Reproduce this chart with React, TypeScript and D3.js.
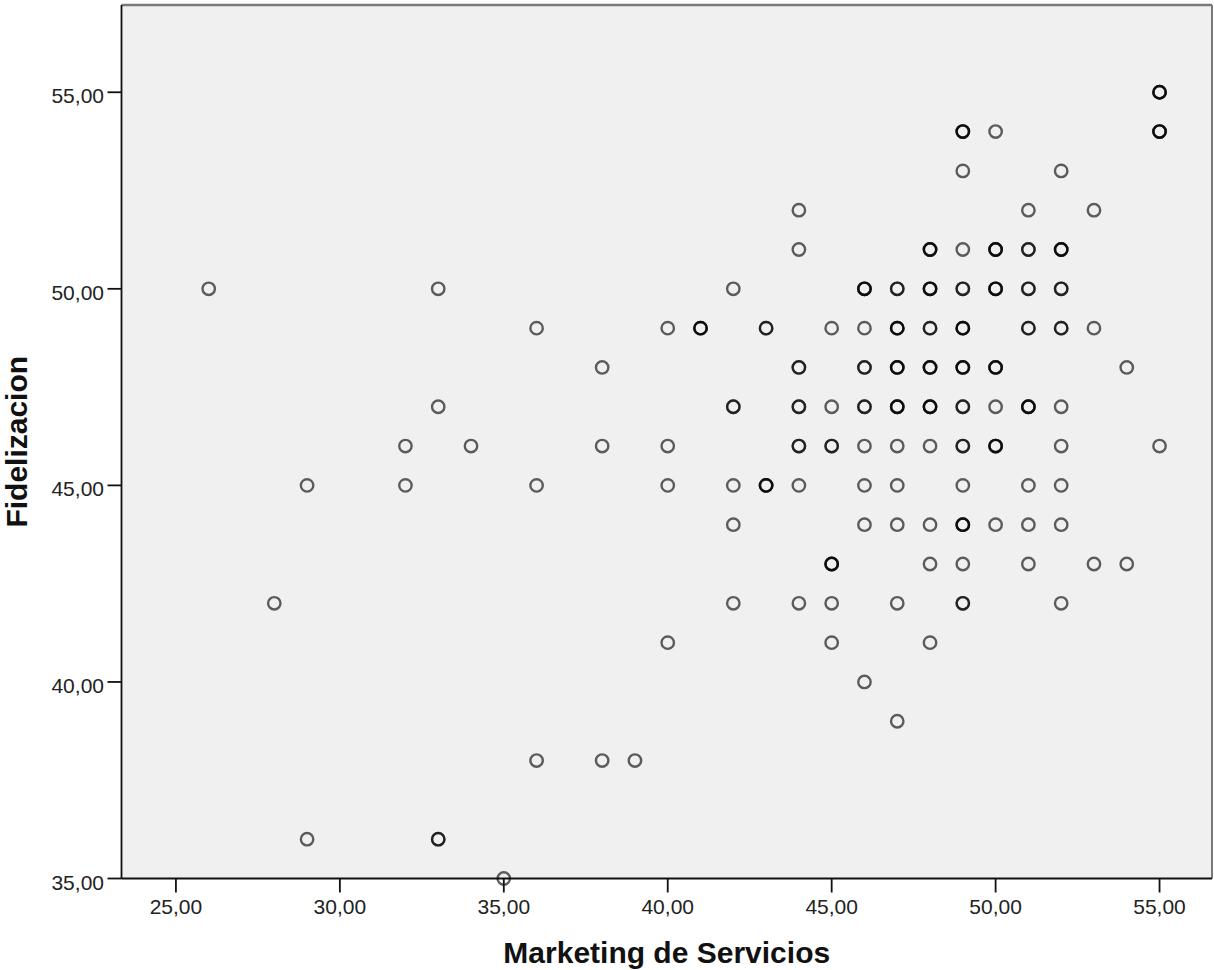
import React from "react";
import * as d3 from "d3";

// Marketing de Servicios (x), Fidelizacion (y), overlap count (darkness)
const marketing = [
  55,
  49, 50, 55,
  49, 52,
  44, 51, 53,
  44, 48, 49, 50, 51, 52,
  26, 33, 42, 46, 47, 48, 49, 50, 51, 52,
  36, 40, 41, 43, 45, 46, 47, 48, 49, 51, 52, 53,
  38, 44, 46, 47, 48, 49, 50, 54,
  33, 42, 44, 45, 46, 47, 48, 49, 50, 51, 52,
  32, 34, 38, 40, 44, 45, 46, 47, 48, 49, 50, 52, 55,
  29, 32, 36, 40, 42, 43, 44, 46, 47, 49, 51, 52,
  42, 46, 47, 48, 49, 50, 51, 52,
  45, 48, 49, 51, 53, 54,
  28, 42, 44, 45, 47, 49, 52,
  40, 45, 48,
  46,
  47,
  36, 38, 39,
  29, 33,
  35,
];
const fidelizacion = [
  55,
  54, 54, 54,
  53, 53,
  52, 52, 52,
  51, 51, 51, 51, 51, 51,
  50, 50, 50, 50, 50, 50, 50, 50, 50, 50,
  49, 49, 49, 49, 49, 49, 49, 49, 49, 49, 49, 49,
  48, 48, 48, 48, 48, 48, 48, 48,
  47, 47, 47, 47, 47, 47, 47, 47, 47, 47, 47,
  46, 46, 46, 46, 46, 46, 46, 46, 46, 46, 46, 46, 46,
  45, 45, 45, 45, 45, 45, 45, 45, 45, 45, 45, 45,
  44, 44, 44, 44, 44, 44, 44, 44,
  43, 43, 43, 43, 43, 43,
  42, 42, 42, 42, 42, 42, 42,
  41, 41, 41,
  40,
  39,
  38, 38, 38,
  36, 36,
  35,
];
const overlap = [
  3,
  3, 1, 3,
  1, 1,
  1, 1, 1,
  1, 3, 1, 3, 2, 3,
  1, 1, 1, 3, 2, 3, 2, 3, 2, 2,
  1, 1, 3, 2, 1, 1, 3, 2, 3, 2, 2, 1,
  1, 2, 2, 3, 3, 3, 3, 1,
  1, 2, 2, 1, 2, 3, 3, 2, 1, 3, 1,
  1, 1, 1, 1, 2, 2, 1, 1, 1, 2, 3, 1, 1,
  1, 1, 1, 1, 1, 3, 1, 1, 1, 1, 1, 1,
  1, 1, 1, 1, 3, 1, 1, 1,
  3, 1, 1, 1, 1, 1,
  1, 1, 1, 1, 1, 2, 1,
  1, 1, 1,
  1,
  1,
  1, 1, 1,
  1, 2,
  1,
];

const xTicks = [25, 30, 35, 40, 45, 50, 55];
const yTicks = [35, 40, 45, 50, 55];
const xTitle = "Marketing de Servicios";
const yTitle = "Fidelizacion";

const W = 1214;
const H = 970;
const left = 121.5;
const right = 1212;
const top = 5;
const bottom = 878.5;

const fmt = (v: number) => v.toFixed(2).replace(".", ",");

export default function App() {
  const x = d3.scaleLinear().domain([23.34, 56.6]).range([left, right]);
  const y = d3.scaleLinear().domain([35, 57.22]).range([bottom, top]);

  const marks: { cx: number; cy: number; key: string }[] = [];
  marketing.forEach((mx, i) => {
    for (let k = 0; k < overlap[i]; k++) {
      marks.push({ cx: x(mx), cy: y(fidelizacion[i]), key: `${i}-${k}` });
    }
  });

  const font = "'Liberation Sans', Arial, sans-serif";

  return (
    <svg
      width={W}
      height={H}
      style={{ position: "absolute", left: 0, top: 0, background: "#fff" }}
    >
      <rect x={left} y={top} width={right - left} height={bottom - top} fill="#f0f0f0" />
      {/* top & right border */}
      <line x1={left} x2={right} y1={top} y2={top} stroke="#7a7a7a" strokeWidth={2.5} />
      <line x1={right} x2={right} y1={top} y2={bottom} stroke="#7a7a7a" strokeWidth={2} />
      {/* axes */}
      <line x1={left} x2={left} y1={top} y2={bottom} stroke="#111" strokeWidth={1.8} />
      <line x1={left} x2={right} y1={bottom} y2={bottom} stroke="#111" strokeWidth={1.8} />

      {marks.map((m) => (
        <circle
          key={m.key}
          cx={m.cx}
          cy={m.cy}
          r={6.2}
          fill="none"
          stroke="#000"
          strokeOpacity={0.62}
          strokeWidth={2.4}
        />
      ))}

      {yTicks.map((t) => (
        <g key={`y${t}`}>
          <line x1={left - 14} x2={left} y1={y(t)} y2={y(t)} stroke="#111" strokeWidth={1.8} />
          <text
            x={104}
            y={y(t) + 11}
            textAnchor="end"
            fontFamily={font}
            fontSize={21}
            fill="#222"
          >
            {fmt(t)}
          </text>
        </g>
      ))}
      {xTicks.map((t) => (
        <g key={`x${t}`}>
          <line x1={x(t)} x2={x(t)} y1={bottom} y2={bottom + 14} stroke="#111" strokeWidth={1.8} />
          <text
            x={x(t)}
            y={914}
            textAnchor="middle"
            fontFamily={font}
            fontSize={21}
            fill="#222"
          >
            {fmt(t)}
          </text>
        </g>
      ))}

      <text
        x={(left + right) / 2}
        y={963}
        textAnchor="middle"
        fontFamily={font}
        fontWeight="bold"
        fontSize={30}
        fill="#111"
      >
        {xTitle}
      </text>
      <text
        transform={`translate(27, ${(top + bottom) / 2}) rotate(-90)`}
        textAnchor="middle"
        fontFamily={font}
        fontWeight="bold"
        fontSize={30}
        fill="#111"
      >
        {yTitle}
      </text>
    </svg>
  );
}
